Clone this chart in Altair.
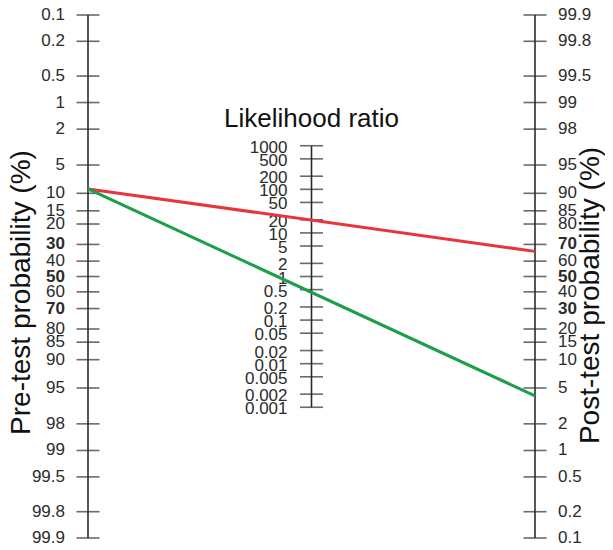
import numpy as np
import pandas as pd
import altair as alt

# ---- data ----
prob_values = [0.1, 0.2, 0.5, 1, 2, 5, 10, 15, 20, 30, 40, 50, 60, 70, 80, 85, 90, 95, 98, 99, 99.5, 99.8, 99.9]
prob_labels = ["0.1", "0.2", "0.5", "1", "2", "5", "10", "15", "20", "30", "40", "50", "60", "70",
               "80", "85", "90", "95", "98", "99", "99.5", "99.8", "99.9"]
bold_labels = ["30", "50", "70"]
lr_values = [1000, 500, 200, 100, 50, 20, 10, 5, 2, 1, 0.5, 0.2, 0.1, 0.05, 0.02, 0.01, 0.005, 0.002, 0.001]
lr_labels = ["1000", "500", "200", "100", "50", "20", "10", "5", "2", "1", "0.5", "0.2", "0.1",
             "0.05", "0.02", "0.01", "0.005", "0.002", "0.001"]
line_names = ["Positive test", "Negative test"]
pre_test = [9, 9]
post_test = [66, 4.1]
line_colors = ["#e8343c", "#1c9f4a"]

FONT = "Liberation Sans"
INK = "#2b2b2b"


def logit(p):
    p = np.asarray(p, dtype=float)
    return np.log(p / (100 - p))


# axis coordinate: 0 = pre-test, 1 = likelihood ratio, 2 = post-test
side = pd.concat([
    pd.DataFrame({"x": 0, "y": -logit(prob_values), "label": prob_labels, "side": "left"}),
    pd.DataFrame({"x": 2, "y": logit(prob_values), "label": prob_labels, "side": "right"}),
], ignore_index=True)
side["bold"] = side["label"].isin(bold_labels)
mid = pd.DataFrame({"x": 1, "y": np.log(lr_values) / 2, "label": lr_labels})

ymax = float(logit(max(prob_values)))
axes_df = pd.DataFrame({
    "x": [0, 1, 2],
    "y": [ymax, np.log(max(lr_values)) / 2, ymax],
    "y2": [-ymax, np.log(min(lr_values)) / 2, -ymax],
})
lines_df = pd.DataFrame({
    "name": line_names,
    "x": 0, "x2": 2,
    "y": -logit(pre_test),
    "y2": logit(post_test),
})

xs = alt.Scale(domain=[0, 2], nice=False, zero=False)
ys = alt.Scale(domain=[-ymax, ymax], nice=False, zero=False)
X = alt.X("x:Q", scale=xs, axis=None)
Y = alt.Y("y:Q", scale=ys, axis=None)

axis_lines = alt.Chart(axes_df).mark_rule(color=INK, strokeWidth=1.6).encode(
    x=X, y=Y, y2="y2:Q")

side_ticks = alt.Chart(side).mark_tick(orient="horizontal", size=23, thickness=1.6, color=INK).encode(x=X, y=Y)
mid_ticks = alt.Chart(mid).mark_tick(orient="horizontal", size=23, thickness=1.6, color=INK).encode(x=X, y=Y)

left_norm = alt.Chart(side).transform_filter("datum.side == 'left' && !datum.bold").mark_text(
    align="right", baseline="middle", dx=-23, font=FONT, fontSize=17, color=INK).encode(x=X, y=Y, text="label:N")
left_bold = alt.Chart(side).transform_filter("datum.side == 'left' && datum.bold").mark_text(
    align="right", baseline="middle", dx=-23, font=FONT, fontSize=17, fontWeight="bold", color=INK).encode(
    x=X, y=Y, text="label:N")
right_norm = alt.Chart(side).transform_filter("datum.side == 'right' && !datum.bold").mark_text(
    align="left", baseline="middle", dx=23, font=FONT, fontSize=17, color=INK).encode(x=X, y=Y, text="label:N")
right_bold = alt.Chart(side).transform_filter("datum.side == 'right' && datum.bold").mark_text(
    align="left", baseline="middle", dx=23, font=FONT, fontSize=17, fontWeight="bold", color=INK).encode(
    x=X, y=Y, text="label:N")
mid_labels = alt.Chart(mid).mark_text(
    align="right", baseline="middle", dx=-24, dy=2, font=FONT, fontSize=17, color=INK).encode(
    x=X, y=Y, text="label:N")

titles_df = pd.DataFrame({
    "text": ["Likelihood ratio"],
    "x": [1], "y": [np.log(max(lr_values)) / 2],
})
lr_title = alt.Chart(titles_df).mark_text(
    align="center", baseline="middle", dy=-27, font=FONT, fontSize=26, color="#111").encode(
    x=X, y=Y, text="text:N")

side_titles_df = pd.DataFrame({"text": ["Pre-test probability (%)", "Post-test probability (%)"],
                               "x": [0, 2], "y": [0, 0]})
pre_title = alt.Chart(side_titles_df).transform_filter("datum.x == 0").mark_text(
    align="center", baseline="middle", angle=270, dy=-66, dx=-16, font=FONT, fontSize=28, color="#111").encode(
    x=X, y=Y, text="text:N")
post_title = alt.Chart(side_titles_df).transform_filter("datum.x == 2").mark_text(
    align="center", baseline="middle", angle=270, dy=56, dx=-19, font=FONT, fontSize=28, color="#111").encode(
    x=X, y=Y, text="text:N")

lines = alt.Chart(lines_df).mark_rule(strokeWidth=3).encode(
    x=X, x2="x2:Q", y=Y, y2="y2:Q",
    color=alt.Color("name:N", scale=alt.Scale(domain=line_names, range=line_colors), legend=None))

chart = alt.layer(
    axis_lines, side_ticks, mid_ticks, left_norm, left_bold, right_norm, right_bold, mid_labels,
    lr_title, pre_title, post_title, lines
).properties(
    width=447, height=523,
    padding={"left": 80, "top": 7, "right": 70, "bottom": 5},
    autosize=alt.AutoSizeParams(type="none"),
).configure_view(stroke=None)

chart.save("out.html", embed_options={"renderer": "svg", "actions": False})
